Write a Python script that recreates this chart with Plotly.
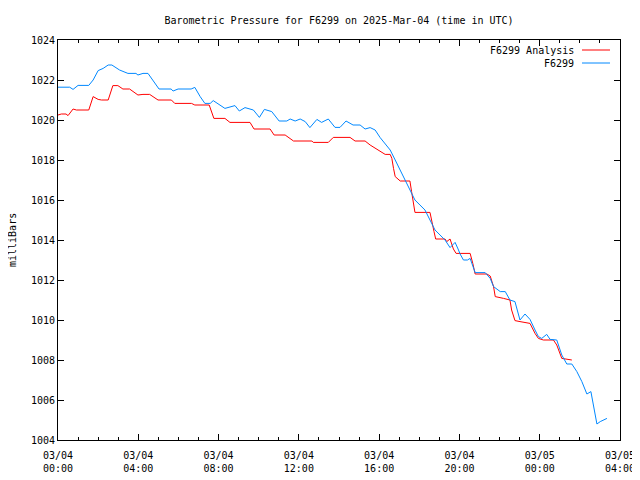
import plotly.graph_objects as go

# F6299 observations
obs_time = [
    "2025-03-04 00:00", "2025-03-04 00:35", "2025-03-04 00:45", "2025-03-04 01:00", "2025-03-04 01:32",
    "2025-03-04 01:45", "2025-03-04 02:00", "2025-03-04 02:15", "2025-03-04 02:30", "2025-03-04 02:41",
    "2025-03-04 03:04", "2025-03-04 03:29", "2025-03-04 03:53", "2025-03-04 03:59", "2025-03-04 04:14",
    "2025-03-04 04:29", "2025-03-04 05:02", "2025-03-04 05:38", "2025-03-04 05:44", "2025-03-04 05:59",
    "2025-03-04 06:38", "2025-03-04 06:49", "2025-03-04 07:05", "2025-03-04 07:19", "2025-03-04 07:35",
    "2025-03-04 07:44", "2025-03-04 08:19", "2025-03-04 08:49", "2025-03-04 09:02", "2025-03-04 09:19",
    "2025-03-04 09:44", "2025-03-04 10:02", "2025-03-04 10:17", "2025-03-04 10:39", "2025-03-04 11:01",
    "2025-03-04 11:24", "2025-03-04 11:34", "2025-03-04 11:49", "2025-03-04 12:04", "2025-03-04 12:19",
    "2025-03-04 12:33", "2025-03-04 12:54", "2025-03-04 13:08", "2025-03-04 13:28", "2025-03-04 13:48",
    "2025-03-04 14:03", "2025-03-04 14:21", "2025-03-04 14:42", "2025-03-04 15:03", "2025-03-04 15:18",
    "2025-03-04 15:33", "2025-03-04 15:48", "2025-03-04 16:03", "2025-03-04 16:18", "2025-03-04 16:33",
    "2025-03-04 16:48", "2025-03-04 17:03", "2025-03-04 17:18", "2025-03-04 17:32", "2025-03-04 17:47",
    "2025-03-04 18:02", "2025-03-04 18:17", "2025-03-04 18:32", "2025-03-04 18:47", "2025-03-04 19:02",
    "2025-03-04 19:17", "2025-03-04 19:32", "2025-03-04 19:47", "2025-03-04 19:56", "2025-03-04 20:02",
    "2025-03-04 20:12", "2025-03-04 20:24", "2025-03-04 20:32", "2025-03-04 20:47", "2025-03-04 21:17",
    "2025-03-04 21:32", "2025-03-04 21:42", "2025-03-04 22:02", "2025-03-04 22:17", "2025-03-04 22:31",
    "2025-03-04 22:46", "2025-03-04 23:01", "2025-03-04 23:16", "2025-03-04 23:31", "2025-03-04 23:46",
    "2025-03-04 23:56", "2025-03-05 00:06", "2025-03-05 00:21", "2025-03-05 00:31", "2025-03-05 00:51",
    "2025-03-05 01:06", "2025-03-05 01:21", "2025-03-05 01:36", "2025-03-05 01:51", "2025-03-05 02:06",
    "2025-03-05 02:21", "2025-03-05 02:33", "2025-03-05 02:41", "2025-03-05 02:51", "2025-03-05 03:01",
    "2025-03-05 03:21",
]
obs_pressure = [
    1021.64, 1021.64, 1021.53, 1021.73, 1021.73,
    1022.00, 1022.47, 1022.58, 1022.75, 1022.75,
    1022.50, 1022.33, 1022.33, 1022.25, 1022.33,
    1022.33, 1021.55, 1021.55, 1021.45, 1021.55,
    1021.55, 1021.63, 1021.17, 1020.83, 1020.83,
    1020.97, 1020.58, 1020.72, 1020.45, 1020.62,
    1020.50, 1020.13, 1020.53, 1020.42, 1019.95,
    1019.95, 1020.05, 1019.95, 1020.05, 1019.92,
    1019.62, 1020.03, 1019.88, 1020.05, 1019.63,
    1019.63, 1019.95, 1019.75, 1019.75, 1019.55,
    1019.62, 1019.50, 1019.12, 1018.83, 1018.50,
    1018.00, 1017.50, 1017.00, 1016.50, 1016.00,
    1015.75, 1015.50, 1015.00, 1014.50, 1014.25,
    1014.00, 1013.62, 1013.88, 1013.55, 1013.30,
    1013.00, 1013.00, 1013.08, 1012.37, 1012.37,
    1012.08, 1011.67, 1011.42, 1011.42, 1011.00,
    1010.92, 1010.00, 1010.30, 1010.03, 1009.50,
    1009.17, 1009.08, 1009.28, 1009.03, 1009.00,
    1008.25, 1007.80, 1007.80, 1007.42, 1006.92,
    1006.30, 1006.42, 1005.67, 1004.80, 1004.92,
    1005.08,
]

# F6299 Analysis
ana_time = [
    "2025-03-04 00:00", "2025-03-04 00:10", "2025-03-04 00:24", "2025-03-04 00:30", "2025-03-04 00:45",
    "2025-03-04 00:55", "2025-03-04 01:32", "2025-03-04 01:45", "2025-03-04 02:00", "2025-03-04 02:10",
    "2025-03-04 02:30", "2025-03-04 02:44", "2025-03-04 02:59", "2025-03-04 03:14", "2025-03-04 03:34",
    "2025-03-04 03:59", "2025-03-04 04:14", "2025-03-04 04:34", "2025-03-04 04:59", "2025-03-04 05:39",
    "2025-03-04 05:49", "2025-03-04 06:39", "2025-03-04 06:49", "2025-03-04 07:32", "2025-03-04 07:46",
    "2025-03-04 08:19", "2025-03-04 08:34", "2025-03-04 09:34", "2025-03-04 09:46", "2025-03-04 10:34",
    "2025-03-04 10:46", "2025-03-04 11:19", "2025-03-04 11:44", "2025-03-04 12:39", "2025-03-04 12:43",
    "2025-03-04 13:28", "2025-03-04 13:43", "2025-03-04 14:33", "2025-03-04 14:48", "2025-03-04 15:18",
    "2025-03-04 15:33", "2025-03-04 15:48", "2025-03-04 16:03", "2025-03-04 16:18", "2025-03-04 16:33",
    "2025-03-04 16:38", "2025-03-04 16:43", "2025-03-04 16:48", "2025-03-04 17:03", "2025-03-04 17:32",
    "2025-03-04 17:37", "2025-03-04 17:42", "2025-03-04 17:47", "2025-03-04 18:32", "2025-03-04 18:37",
    "2025-03-04 18:44", "2025-03-04 18:49", "2025-03-04 19:17", "2025-03-04 19:22", "2025-03-04 19:32",
    "2025-03-04 19:37", "2025-03-04 19:42", "2025-03-04 19:50", "2025-03-04 20:32", "2025-03-04 20:40",
    "2025-03-04 20:47", "2025-03-04 21:22", "2025-03-04 21:32", "2025-03-04 21:42", "2025-03-04 21:47",
    "2025-03-04 22:12", "2025-03-04 22:31", "2025-03-04 22:36", "2025-03-04 22:46", "2025-03-04 23:01",
    "2025-03-04 23:31", "2025-03-04 23:46", "2025-03-04 23:56", "2025-03-05 00:11", "2025-03-05 00:41",
    "2025-03-05 00:51", "2025-03-05 00:59", "2025-03-05 01:06", "2025-03-05 01:36",
]
ana_pressure = [
    1020.25, 1020.30, 1020.30, 1020.22, 1020.55,
    1020.50, 1020.50, 1021.17, 1021.03, 1021.00,
    1021.00, 1021.72, 1021.72, 1021.55, 1021.55,
    1021.25, 1021.28, 1021.28, 1021.00, 1021.00,
    1020.83, 1020.83, 1020.75, 1020.75, 1020.08,
    1020.08, 1019.88, 1019.88, 1019.55, 1019.55,
    1019.25, 1019.25, 1018.95, 1018.95, 1018.88,
    1018.88, 1019.13, 1019.13, 1018.95, 1018.95,
    1018.75, 1018.58, 1018.42, 1018.28, 1018.28,
    1018.08, 1017.58, 1017.17, 1016.95, 1016.95,
    1016.42, 1015.92, 1015.38, 1015.38, 1014.92,
    1014.42, 1014.05, 1014.05, 1013.92, 1014.05,
    1013.80, 1013.55, 1013.33, 1013.33, 1012.83,
    1012.30, 1012.30, 1012.20, 1011.67, 1011.17,
    1011.08, 1011.00, 1010.50, 1009.97, 1009.92,
    1009.83, 1009.33, 1009.08, 1009.00, 1009.00,
    1008.75, 1008.33, 1008.08, 1008.00,
]

x_tickvals = ["2025-03-04 00:00", "2025-03-04 04:00", "2025-03-04 08:00", "2025-03-04 12:00",
              "2025-03-04 16:00", "2025-03-04 20:00", "2025-03-05 00:00", "2025-03-05 04:00"]
x_ticktext = ["03/04<br>00:00", "03/04<br>04:00", "03/04<br>08:00", "03/04<br>12:00",
              "03/04<br>16:00", "03/04<br>20:00", "03/05<br>00:00", "03/05<br>04:00"]

RED = "#ff0000"
BLUE = "#0088ff"
FONT = "DejaVu Sans Mono"

# the page body adds an 8px margin; this puts the plot box at 58..620 x 40..440 on screen
# and lets the figure reach the right and bottom edges of the 640x480 window
W, H = 632, 472
ML, MR, MT, MB = 50, 20, 32, 40
PW = W - ML - MR
PH = H - MT - MB

fig = go.Figure()
fig.add_trace(go.Scatter(x=ana_time, y=ana_pressure, mode="lines", name="F6299 Analysis",
                         line=dict(color=RED, width=1)))
fig.add_trace(go.Scatter(x=obs_time, y=obs_pressure, mode="lines", name="F6299",
                         line=dict(color=BLUE, width=1)))

fig.update_layout(
    template="none",
    width=W, height=H, autosize=False,
    margin=dict(l=ML, r=MR, t=MT, b=MB, pad=0, autoexpand=False),
    paper_bgcolor="white", plot_bgcolor="white",
    showlegend=False,
    font=dict(family=FONT, size=10, color="black"),
    title=dict(text="Barometric Pressure for F6299 on 2025-Mar-04 (time in UTC)",
               x=0.5, xref="paper", xanchor="center", y=1 - 12 / H, yref="container",
               yanchor="middle", automargin=False,
               font=dict(family=FONT, size=10, color="black")),
)
fig.update_xaxes(
    type="date", range=["2025-03-04 00:00", "2025-03-05 04:00"],
    tickmode="array", tickvals=x_tickvals, ticktext=x_ticktext,
    ticks="inside", ticklen=6, tickcolor="black", tickwidth=1, ticklabelstandoff=6,
    ticklabeloverflow="allow", automargin=False,
    minor=dict(dtick=3600000, ticks="inside", ticklen=3, tickcolor="black", showgrid=False),
    showline=True, linecolor="black", linewidth=1, mirror="allticks",
    showgrid=False, zeroline=False, tickfont=dict(family=FONT, size=10),
)
fig.update_yaxes(
    range=[1004, 1024], tickmode="linear", tick0=1004, dtick=2,
    ticks="inside", ticklen=6, tickcolor="black", tickwidth=1, automargin=False,
    showline=True, linecolor="black", linewidth=1, mirror="allticks",
    showgrid=False, zeroline=False, tickfont=dict(family=FONT, size=10),
)

# y axis title
fig.add_annotation(text="milliBars", xref="paper", yref="paper", x=0, y=0.5,
                   xshift=-46, textangle=-90, showarrow=False, xanchor="center", yanchor="middle",
                   font=dict(family=FONT, size=10))

# key (text right-aligned, sample line to its right, gnuplot style)
legend_items = [("F6299 Analysis", RED, 50), ("F6299", BLUE, 63)]
for label, color, ypix in legend_items:
    yp = 1 - (ypix - 40) / PH
    fig.add_annotation(text=label, xref="paper", yref="paper", x=(576 - 58) / PW, y=yp,
                       xanchor="right", yanchor="middle", showarrow=False,
                       font=dict(family=FONT, size=10))
    fig.add_shape(type="line", xref="paper", yref="paper",
                  x0=(582 - 58) / PW, x1=(610 - 58) / PW, y0=yp, y1=yp,
                  line=dict(color=color, width=1))

fig.write_html("out.html")
